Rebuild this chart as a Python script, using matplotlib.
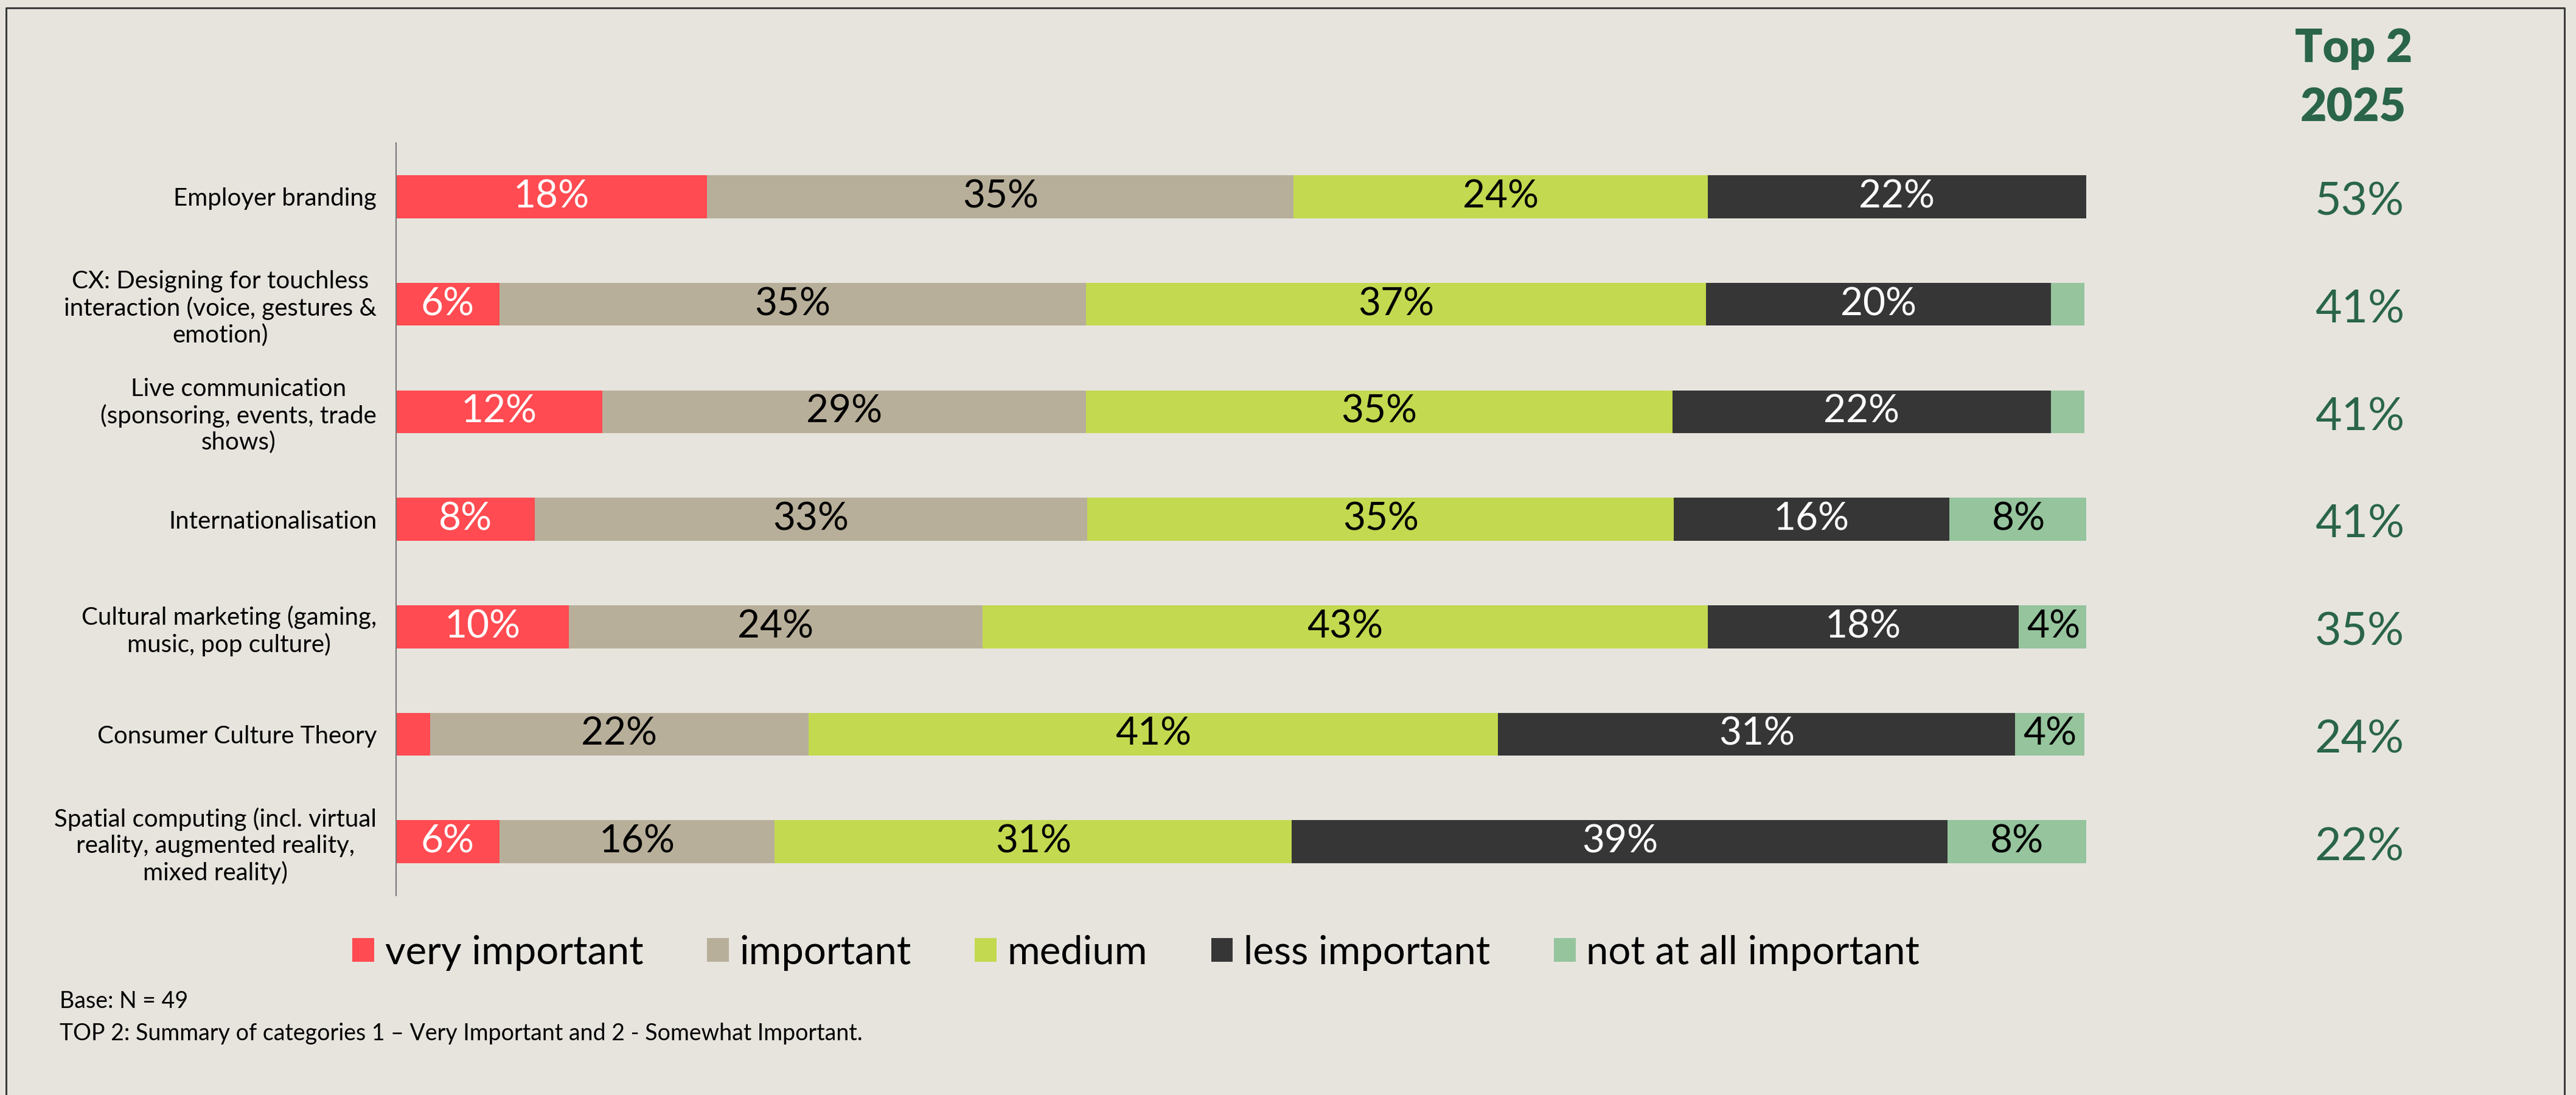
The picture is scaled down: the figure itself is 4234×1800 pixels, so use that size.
import numpy as np
import matplotlib
matplotlib.use('Agg')
import matplotlib.pyplot as plt
from matplotlib.patches import Patch
from matplotlib.lines import Line2D
from matplotlib.transforms import blended_transform_factory

# Umfrage, N = 49, Anteile in %
topics = ['Employer branding',
          'CX: Designing for touchless\ninteraction (voice, gestures &\nemotion)',
          'Live communication\n(sponsoring, events, trade\nshows)',
          'Internationalisation',
          'Cultural marketing (gaming,\nmusic, pop culture)',
          'Consumer Culture Theory',
          'Spatial computing (incl. virtual\nreality, augmented reality,\nmixed reality)']
levels = ['very important', 'important', 'medium', 'less important', 'not at all important']

very_important = [18.4, 6.1, 12.2, 8.2, 10.2, 2.0, 6.1]
important      = [34.7, 34.7, 28.6, 32.7, 24.5, 22.4, 16.3]
medium         = [24.5, 36.7, 34.7, 34.7, 42.9, 40.8, 30.6]
less_important = [22.4, 20.4, 22.4, 16.3, 18.4, 30.6, 38.8]
not_at_all     = [0.0, 2.0, 2.0, 8.2, 4.1, 4.1, 8.2]
top2 = [53, 41, 41, 41, 35, 24, 22]

colors = ['#FF4B51', '#B8AF9A', '#C3D94F', '#363636', '#95C49D']
text_colors = ['white', 'black', 'black', 'white', 'black']
bg = '#E7E4DE'
green = '#2A6549'

plt.rcParams['font.family'] = ['Lato', 'DejaVu Sans']

fig = plt.figure(figsize=(42.34, 18), dpi=100, facecolor=bg)
ax = fig.add_axes([0.1538, 0.1822, 0.8099 - 0.1538, 0.6872])
ax.set_facecolor(bg)

series = [very_important, important, medium, less_important, not_at_all]
y = np.arange(len(topics))
left = np.zeros(len(topics))
for vals, c, tc in zip(series, colors, text_colors):
    vals = np.array(vals)
    ax.barh(y, vals, left=left, height=0.4, color=c, edgecolor='none')
    for yi, l, v in zip(y, left, vals):
        if v >= 3:
            ax.text(l + v / 2, yi, f'{v:.0f}%', ha='center', va='center',
                    fontsize=46, color=tc)
    left += vals

ax.set_xlim(0, 100)
ax.set_ylim(len(topics) - 0.5, -0.5)
ax.set_yticks(y)
ax.set_yticklabels(topics, fontsize=29)
for lab in ax.get_yticklabels():
    lab.set_multialignment('center')
ax.tick_params(axis='y', length=0, pad=23)
ax.tick_params(axis='x', bottom=False, labelbottom=False)
for s in ['top', 'right', 'bottom']:
    ax.spines[s].set_visible(False)
ax.spines['left'].set_color('#777777')
ax.spines['left'].set_linewidth(1.5)

# Top-2-Spalte rechts
tr = blended_transform_factory(fig.transFigure, ax.transData)
for yi, t in zip(y, top2):
    ax.text(0.9160, yi + 0.05, f'{t}%', transform=tr, ha='center', va='center',
            fontsize=54, color=green, clip_on=False)
fig.text(0.9136, 0.9433, 'Top 2', ha='center', va='baseline', fontsize=54,
         fontweight='heavy', color=green)
fig.text(0.9136, 0.8889, '2025', ha='center', va='baseline', fontsize=54,
         fontweight='heavy', color=green)

handles = [Patch(facecolor=c, edgecolor='none') for c in colors]
fig.legend(handles, levels, loc='center', bbox_to_anchor=(0.441, 0.13), ncol=5,
           frameon=False, fontsize=47, handlelength=0.55, handleheight=0.56,
           handletextpad=0.27, columnspacing=1.6)

fig.text(98 / 4234, 1 - 1657 / 1800, 'Base: N = 49', fontsize=27, va='baseline')
fig.text(98 / 4234, 1 - 1710 / 1800,
         'TOP 2: Summary of categories 1 \u2013 Very Important and 2 - Somewhat Important.',
         fontsize=27, va='baseline')

# Rahmen
fig.add_artist(Line2D([0.0024, 0.0024, 0.9955, 0.9955], [0.0, 0.9928, 0.9928, 0.0],
                      color='#3A3A3A', lw=2.2, transform=fig.transFigure))

plt.savefig('out.png', dpi=100, facecolor=bg)
